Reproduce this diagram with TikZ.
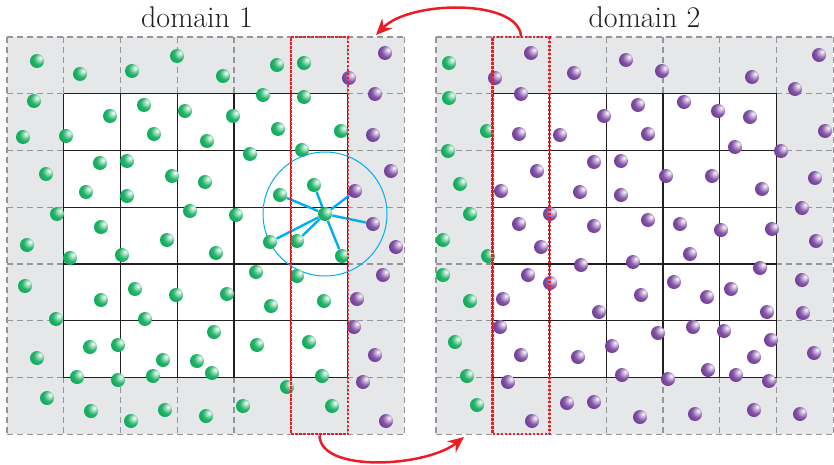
\documentclass[tikz,border=0pt]{standalone}
\usepackage{xcolor}
\definecolor{GreenBall}{HTML}{00A651}
\definecolor{PurpleBall}{HTML}{662D91}
\definecolor{HaloRed}{HTML}{ED1C24}
\definecolor{CutoffBlue}{HTML}{00AEEF}
\definecolor{GhostGrey}{HTML}{E6E7E8}
\definecolor{DashGrey}{HTML}{939598}
\definecolor{Charcoal}{HTML}{231F20}
\usepackage{tikz}
\usetikzlibrary{arrows.meta}
% ball shadings with the highlight at the upper right
\pgfdeclareradialshading{greenball}{\pgfpoint{12bp}{12bp}}{color(0bp)=(white); color(6bp)=(GreenBall!25!white); color(20bp)=(GreenBall!85!white); color(38bp)=(GreenBall); color(62bp)=(GreenBall!65!black)}
\pgfdeclareradialshading{purpleball}{\pgfpoint{12bp}{12bp}}{color(0bp)=(white); color(6bp)=(PurpleBall!25!white); color(20bp)=(PurpleBall!80!white); color(38bp)=(PurpleBall); color(62bp)=(PurpleBall!65!black)}
\tikzstyle{gball} = [circle, inner sep=0pt, minimum size=7pt, shade, shading=greenball]
\tikzstyle{pball} = [circle, inner sep=0pt, minimum size=7pt, shade, shading=purpleball]
\tikzstyle{ghostline} = [draw=DashGrey, line width=0.7pt, dash pattern=on 3pt off 2pt]
\tikzstyle{cellline} = [draw=Charcoal, line width=0.7pt]
\tikzstyle{strip} = [rectangle, draw=HaloRed, line width=1.2pt, dash pattern=on 1.2pt off 0.8pt, minimum width=28.4pt, minimum height=198.5pt, inner sep=0pt]
\tikzstyle{shiparrow} = [draw=HaloRed, line width=1.25pt, -{Stealth[length=8pt,width=7pt]}]
\tikzstyle{spoke} = [draw=CutoffBlue, line width=1.2pt]
\tikzstyle{title} = [text=Charcoal, font=\fontsize{15}{18}\selectfont, anchor=base, inner sep=0pt]

\begin{document}
\begin{tikzpicture}[x=0.5pt, y=0.5pt]
        \useasboundingbox (0,0) rectangle (834,-465);

        % Domain boxes with ghost cells
        \foreach \ox in {7,436} {
            \begin{scope}[shift={(\ox,-37)}]
                \fill[GhostGrey] (0,0) rectangle (397.25,-397.25);
                \foreach \i in {0,...,7} {
                    \draw[ghostline] (\i*56.75,0) -- (\i*56.75,-397.25);
                    \draw[ghostline] (0,-\i*56.75) -- (397.25,-\i*56.75);
                }
                \fill[white] (56.75,-56.75) rectangle (340.5,-340.5);
                \foreach \i in {1,...,6} {
                    \draw[cellline] (\i*56.75,-56.75) -- (\i*56.75,-340.5);
                    \draw[cellline] (56.75,-\i*56.75) -- (340.5,-\i*56.75);
                }
            \end{scope}
        }

        \node[title] (t1) at (197,-28) {domain 1};
        \node[title] (t2) at (644.5,-28) {domain 2};

        % Cut-off radius
        \coordinate (hubc) at (325,-214);
        \draw[CutoffBlue, line width=0.5pt] (hubc) circle (62);

        % Particles of domain 1
        \foreach \x/\y [count=\i] in {37/61, 80/74, 132/71, 177/56, 223/76, 277/65, 304/63,
            34/101, 110/116, 144/105, 185/111, 233/116, 263/95, 304/97,
            23/137, 66/136, 154/134, 207/141, 278/129, 341/131,
            302/150, 250/154, 46/174, 100/163, 127/161, 172/176, 205/182,
            86/192, 127/196, 57/214, 190/211, 236/215, 101/227,
            27/245, 70/258, 122/255, 167/240, 216/253,
            25/286, 101/300, 135/289, 176/295, 227/294, 256/272, 297/276, 271/306, 324/301,
            56/319, 145/319, 214/332, 257/345, 309/342,
            37/358, 90/347, 118/345, 163/360, 197/361, 212/373,
            77/377, 118/380, 153/376, 322/376, 287/387,
            47/398, 91/411, 131/421, 165/410, 206/416, 243/406, 332/406}
            \node[gball] (ga\i) at (\x,-\y) {};
        \foreach \x/\y [count=\i] in {349/78, 385/53, 375/94, 373/135, 391/171, 396/247,
            383/275, 357/299, 354/327, 375/355, 363/382, 386/421}
            \node[pball] (pa\i) at (\x,-\y) {};

        % Particle and its neighbours
        \node[gball] (hub) at (hubc) {};
        \node[gball] (nb1) at (280,-195) {};
        \node[gball] (nb2) at (314,-185) {};
        \node[pball] (nb3) at (355,-191) {};
        \node[pball] (nb4) at (373,-224) {};
        \node[gball] (nb5) at (270,-242) {};
        \node[gball] (nb6) at (297,-241) {};
        \node[gball] (nb7) at (342,-256) {};
        \foreach \n in {1,...,7}
            \draw[spoke] (hub) -- (nb\n);

        % Particles of domain 2
        \foreach \x/\y [count=\i] in {449/63, 449/98, 487/131, 448/151, 460/184, 470/214,
            443/240, 488/256, 443/275, 470/301, 455/342, 467/376, 477/405}
            \node[gball] (gb\i) at (\x,-\y) {};
        \foreach \x/\y [count=\i] in {531/53, 495/78, 574/73, 626/60, 662/71, 752/77, 819/55, 795/89,
            521/94, 604/116, 638/105, 684/102, 718/111, 750/117,
            519/134, 560/135, 648/134, 735/147, 781/151, 825/131,
            537/171, 594/162, 621/161, 666/176, 712/176, 762/189, 815/178,
            501/191, 580/192, 621/195,
            550/214, 519/224, 594/226, 648/220, 680/224, 721/230, 772/229, 802/208, 816/241,
            541/247, 690/254, 581/265, 633/262,
            528/275, 550/283, 503/299, 599/312, 641/295, 674/282, 707/297, 731/289, 760/268, 767/312, 802/280, 803/313,
            500/327, 521/355, 578/357, 612/346, 658/333, 693/327, 724/331, 771/340, 754/357, 814/353,
            508/382, 622/375, 668/379, 708/370, 736/375, 769/381,
            532/421, 567/403, 594/402, 640/417, 695/414, 754/410, 800/414}
            \node[pball] (pb\i) at (\x,-\y) {};

        % Halo strips
        \node[strip] (s1) at (319.5,-235.6) {};
        \node[strip] (s2) at (521,-235.6) {};
        \coordinate (g1) at (376,-35);
        \coordinate (g2) at (464,-437);

        % Connect nodes
        \draw[shiparrow] (s2.north) .. controls +(-3,37) and +(34,35) .. (g1);
        \draw[shiparrow] (s1.south) .. controls +(0.5,-38) and +(-38,-30) .. (g2);
    \end{tikzpicture}
\end{document}
